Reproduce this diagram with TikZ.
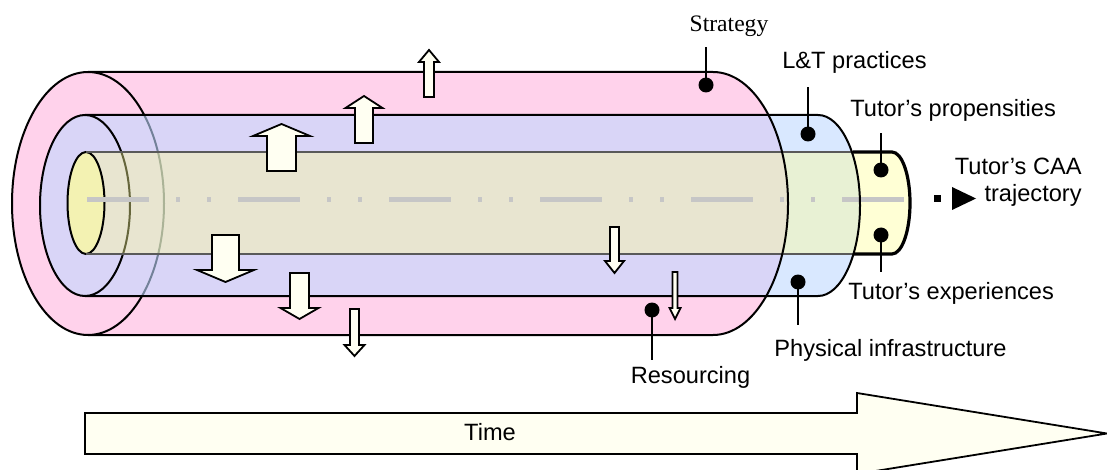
\documentclass[tikz,border=0pt]{standalone}
\usepackage{fontspec}
\setmainfont{Liberation Sans}
\newfontfamily\serifface{Liberation Serif}
\definecolor{pinkfill}{RGB}{255,210,235}
\definecolor{bluefill}{RGB}{192,216,255}
\definecolor{yellowfill}{RGB}{255,255,150}
\definecolor{ivory}{RGB}{255,255,242}
\begin{document}
\begin{tikzpicture}
  [x=0.5pt,y=-0.5pt,
   tube/.style={draw=black,line width=1pt},
   blockarrow/.style={draw=black,line width=0.9pt,fill=ivory,line join=miter},
   dot/.style={circle,fill=black,inner sep=0pt,minimum size=7.5pt},
   lbl/.style={inner sep=0pt,font=\fontsize{11.8}{14}\selectfont},
   lead/.style={line width=0.8pt}]
\useasboundingbox (0,0) rectangle (1107,470);

  % outer tube (strategy)
  \fill[pinkfill] (88,72) -- (713,72) arc[start angle=-90,end angle=90,x radius=75,y radius=131.5]
    -- (88,335) arc[start angle=90,end angle=-90,x radius=76,y radius=131.5] -- cycle;
  \draw[tube,fill=pinkfill] (88,203.5) ellipse [x radius=76,y radius=131.5];

  % middle tube (L&T practices)
  \fill[bluefill,fill opacity=0.6] (85,115) -- (818,115) arc[start angle=-90,end angle=90,x radius=42,y radius=90.5]
    -- (85,296) arc[start angle=90,end angle=-90,x radius=45,y radius=90.5] -- cycle;
  \draw[tube,fill=bluefill,fill opacity=0.6] (85,205.5) ellipse [x radius=45,y radius=90.5];

  % inner tube (tutor)
  \fill[yellowfill,fill opacity=0.4] (86,152) -- (892,152) arc[start angle=-90,end angle=90,x radius=18,y radius=51]
    -- (86,254) arc[start angle=90,end angle=-90,x radius=18.5,y radius=51] -- cycle;
  \draw[tube,fill=yellowfill,fill opacity=0.7] (86,203) ellipse [x radius=18.5,y radius=51];

  % trajectory axis
  \draw[gray!45,line width=2.5pt,dash pattern=on 31pt off 13.5pt on 2pt off 13.5pt on 2pt off 13.5pt]
    (87,200) -- (905,200);

  % outlines
  \draw[black!65,line width=1.4pt] (86,152) -- (853,152) (86,254) -- (853,254);
  \draw[line width=1.6pt] (853,152) -- (892,152) arc[start angle=-90,end angle=90,x radius=18,y radius=51] -- (853,254);
  \draw[tube] (85,115) -- (818,115) arc[start angle=-90,end angle=90,x radius=42,y radius=90.5] -- (85,296);
  \draw[tube] (88,72) -- (713,72) arc[start angle=-90,end angle=90,x radius=75,y radius=131.5] -- (88,335);

  % block arrows
  \foreach \x/\ytail/\ytip/\yhead/\ws/\wh in {429/97/50/62/5/10, 364/143/96/108/9/18.5,
      281.5/171/124/136/14.5/28.5, 225.5/235/282/270/13.5/28.5, 299.5/273/319/308/9.5/19,
      354.5/309/356/345/4.5/10, 614.5/227/273/261/4.5/9.5, 675/272/319/308/2.5/5.5}
    \draw[blockarrow] (\x-\ws,\ytail) -- (\x-\ws,\yhead) -- (\x-\wh,\yhead) -- (\x,\ytip)
      -- (\x+\wh,\yhead) -- (\x+\ws,\yhead) -- (\x+\ws,\ytail) -- cycle;

  % callouts
  \node[dot] (dstrategy) at (706,85) {};
  \node[dot] (dpractice) at (808,134) {};
  \node[dot] (dpropens) at (881,170) {};
  \node[dot] (dexper) at (881,235) {};
  \node[dot] (dphysical) at (798,282) {};
  \node[dot] (dresource) at (652,310) {};
  \coordinate (cstrategy) at (706,47);
  \coordinate (cpractice) at (808,87);
  \coordinate (cpropens) at (881,133);
  \coordinate (cexper) at (881,272);
  \coordinate (cphysical) at (798,325);
  \coordinate (cresource) at (652,360);
  \foreach \d/\c in {dstrategy/cstrategy, dpractice/cpractice, dpropens/cpropens,
      dexper/cexper, dphysical/cphysical, dresource/cresource}
    \draw[lead] (\d.center) -- (\c);

  \node[lbl,font=\serifface\fontsize{11.8}{14}\selectfont,anchor=base] (strategy) at (729,32) {Strategy};
  \node[lbl,anchor=base] (practice) at (854.5,69) {L\&T practices};
  \node[lbl,anchor=base west] (propens) at (850,117) {Tutor’s propensities};
  \node[lbl,anchor=base west] (exper) at (848,299) {Tutor’s experiences};
  \node[lbl,anchor=base west] (physical) at (774,356) {Physical infrastructure};
  \node[lbl,anchor=base] (resource) at (690.5,383) {Resourcing};

  % trajectory marker
  \fill (934,195) rectangle (941,202);
  \fill (952,187) -- (976,198.5) -- (952,210) -- cycle;
  \node[lbl,anchor=base east] (caa) at (1082,175) {Tutor’s CAA};
  \node[lbl,anchor=base east] (traject) at (1082,202) {trajectory};

  % time arrow
  \draw[blockarrow] (85,413) -- (857,413) -- (857,393) -- (1107,433.5) -- (857,474)
    -- (857,454) -- (85,454) -- cycle;
  \node[lbl,anchor=base] (time) at (490,440) {Time};
\end{tikzpicture}
\end{document}
